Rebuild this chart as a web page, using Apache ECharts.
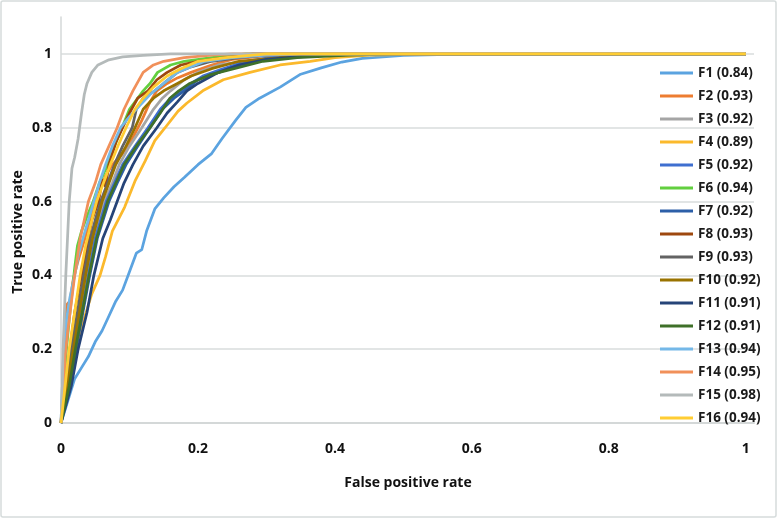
<!DOCTYPE html>
<html>
<head>
<meta charset="utf-8">
<script src="https://cdn.jsdelivr.net/npm/echarts@6/dist/echarts.min.js"></script>
<style>
html, body { margin: 0; padding: 0; background: #fff; }
#chart { width: 777px; height: 518px; }
</style>
</head>
<body>
<div id="chart"></div>
<script>
// ROC curves, [false positive rate, true positive rate]
var names = ['F1 (0.84)', 'F2 (0.93)', 'F3 (0.92)', 'F4 (0.89)', 'F5 (0.92)', 'F6 (0.94)', 'F7 (0.92)', 'F8 (0.93)',
  'F9 (0.93)', 'F10 (0.92)', 'F11 (0.91)', 'F12 (0.91)', 'F13 (0.94)', 'F14 (0.95)', 'F15 (0.98)', 'F16 (0.94)'];
var colors = ['#5BA3E0', '#ED7D31', '#A5A5A5', '#FBB92C', '#3F6FD0', '#62CF3F', '#2C5FA8', '#9E480E',
  '#636363', '#997300', '#264478', '#3F7029', '#74B8E8', '#F1905A', '#B4BABA', '#FFCD33'];
var xTicks = [0, 0.2, 0.4, 0.6, 0.8, 1];
var yTicks = [0, 0.2, 0.4, 0.6, 0.8, 1];

var F1 = [[0,0],[0.01,0.06],[0.02,0.12],[0.03,0.15],[0.04,0.18],[0.05,0.22],[0.06,0.25],[0.07,0.29],[0.08,0.33],[0.09,0.36],[0.1,0.41],[0.11,0.46],[0.118,0.47],[0.125,0.52],[0.137,0.58],[0.15,0.61],[0.165,0.64],[0.18,0.665],[0.2,0.7],[0.22,0.73],[0.235,0.77],[0.255,0.82],[0.27,0.855],[0.29,0.88],[0.32,0.91],[0.35,0.945],[0.38,0.962],[0.41,0.978],[0.44,0.988],[0.5,0.996],[0.6,1],[1,1]];
var F2 = [[0,0],[0.003,0.1],[0.006,0.22],[0.008,0.32],[0.013,0.33],[0.018,0.39],[0.025,0.44],[0.035,0.5],[0.045,0.57],[0.055,0.62],[0.065,0.67],[0.075,0.7],[0.09,0.73],[0.104,0.77],[0.118,0.82],[0.13,0.87],[0.14,0.9],[0.155,0.92],[0.17,0.935],[0.19,0.95],[0.22,0.97],[0.25,0.985],[0.3,0.995],[0.35,1],[1,1]];
var F3 = [[0,0],[0.01,0.1],[0.019,0.2],[0.028,0.3],[0.038,0.4],[0.048,0.5],[0.063,0.6],[0.075,0.65],[0.085,0.7],[0.1,0.75],[0.118,0.8],[0.135,0.85],[0.148,0.88],[0.16,0.9],[0.18,0.93],[0.2,0.95],[0.23,0.97],[0.27,0.98],[0.33,0.99],[0.42,1],[1,1]];
var F4 = [[0,0],[0.01,0.08],[0.02,0.18],[0.03,0.26],[0.04,0.32],[0.045,0.35],[0.057,0.4],[0.065,0.45],[0.075,0.52],[0.093,0.585],[0.108,0.655],[0.123,0.71],[0.137,0.765],[0.152,0.8],[0.171,0.845],[0.184,0.867],[0.207,0.9],[0.237,0.93],[0.276,0.95],[0.32,0.97],[0.364,0.98],[0.4,0.99],[0.45,0.997],[0.55,1],[1,1]];
var F5 = [[0,0],[0.01,0.1],[0.02,0.2],[0.03,0.3],[0.04,0.4],[0.05,0.5],[0.066,0.6],[0.078,0.65],[0.09,0.7],[0.108,0.75],[0.127,0.8],[0.145,0.85],[0.16,0.88],[0.175,0.9],[0.19,0.92],[0.207,0.94],[0.232,0.957],[0.271,0.98],[0.305,0.99],[0.36,0.996],[0.45,1],[1,1]];
var F6 = [[0,0],[0.004,0.1],[0.008,0.2],[0.012,0.28],[0.016,0.35],[0.02,0.42],[0.024,0.48],[0.03,0.52],[0.038,0.56],[0.047,0.6],[0.056,0.65],[0.068,0.7],[0.078,0.75],[0.089,0.8],[0.1,0.85],[0.112,0.88],[0.12,0.9],[0.13,0.92],[0.141,0.95],[0.16,0.97],[0.18,0.98],[0.22,0.99],[0.27,1],[1,1]];
var F7 = [[0,0],[0.012,0.1],[0.022,0.2],[0.032,0.3],[0.042,0.4],[0.053,0.5],[0.07,0.6],[0.082,0.65],[0.095,0.7],[0.112,0.75],[0.13,0.8],[0.148,0.85],[0.165,0.88],[0.18,0.9],[0.2,0.93],[0.23,0.95],[0.26,0.97],[0.3,0.985],[0.36,0.995],[0.45,1],[1,1]];
var F8 = [[0,0],[0.007,0.1],[0.013,0.2],[0.02,0.3],[0.03,0.4],[0.038,0.48],[0.045,0.55],[0.055,0.6],[0.06,0.66],[0.065,0.64],[0.07,0.7],[0.08,0.76],[0.09,0.8],[0.1,0.84],[0.112,0.88],[0.127,0.9],[0.14,0.93],[0.155,0.95],[0.175,0.97],[0.2,0.98],[0.24,0.99],[0.28,1],[1,1]];
var F9 = [[0,0],[0.008,0.1],[0.015,0.2],[0.024,0.3],[0.033,0.4],[0.043,0.5],[0.05,0.55],[0.058,0.6],[0.068,0.65],[0.078,0.7],[0.09,0.75],[0.104,0.8],[0.11,0.85],[0.12,0.88],[0.137,0.9],[0.15,0.92],[0.17,0.95],[0.19,0.965],[0.22,0.98],[0.26,0.99],[0.32,1],[1,1]];
var F10 = [[0,0],[0.009,0.1],[0.018,0.2],[0.027,0.3],[0.036,0.4],[0.046,0.5],[0.06,0.6],[0.07,0.65],[0.08,0.7],[0.095,0.75],[0.108,0.8],[0.12,0.85],[0.135,0.88],[0.15,0.9],[0.17,0.92],[0.19,0.94],[0.22,0.96],[0.26,0.98],[0.32,0.99],[0.4,1],[1,1]];
var F11 = [[0,0],[0.015,0.1],[0.025,0.2],[0.038,0.3],[0.048,0.4],[0.061,0.5],[0.072,0.55],[0.082,0.6],[0.092,0.65],[0.105,0.7],[0.12,0.75],[0.14,0.8],[0.155,0.84],[0.17,0.87],[0.184,0.9],[0.2,0.92],[0.23,0.95],[0.26,0.97],[0.3,0.985],[0.36,0.995],[0.45,1],[1,1]];
var F12 = [[0,0],[0.012,0.1],[0.021,0.2],[0.031,0.3],[0.041,0.4],[0.052,0.5],[0.068,0.6],[0.08,0.65],[0.092,0.7],[0.11,0.75],[0.13,0.8],[0.145,0.84],[0.159,0.88],[0.172,0.9],[0.188,0.92],[0.217,0.943],[0.257,0.962],[0.295,0.98],[0.345,0.99],[0.42,0.997],[0.5,1],[1,1]];
var F13 = [[0,0],[0.002,0.1],[0.004,0.2],[0.008,0.28],[0.013,0.34],[0.02,0.4],[0.026,0.46],[0.032,0.5],[0.04,0.55],[0.048,0.6],[0.056,0.65],[0.065,0.7],[0.075,0.75],[0.087,0.8],[0.1,0.83],[0.115,0.86],[0.13,0.89],[0.15,0.92],[0.17,0.95],[0.19,0.965],[0.21,0.98],[0.25,0.99],[0.3,0.997],[0.35,1],[1,1]];
var F14 = [[0,0],[0.003,0.08],[0.006,0.18],[0.01,0.25],[0.014,0.31],[0.02,0.4],[0.028,0.5],[0.04,0.6],[0.05,0.65],[0.058,0.7],[0.07,0.75],[0.082,0.8],[0.092,0.85],[0.105,0.9],[0.12,0.95],[0.135,0.97],[0.15,0.98],[0.18,0.99],[0.22,0.997],[0.25,1],[1,1]];
var F15 = [[0,0],[0.002,0.1],[0.003,0.2],[0.005,0.3],[0.007,0.4],[0.01,0.52],[0.012,0.6],[0.016,0.69],[0.02,0.72],[0.025,0.77],[0.03,0.84],[0.034,0.89],[0.038,0.92],[0.045,0.95],[0.054,0.97],[0.07,0.984],[0.09,0.992],[0.12,0.996],[0.16,1],[1,1]];
var F16 = [[0,0],[0.006,0.1],[0.012,0.2],[0.02,0.3],[0.028,0.4],[0.036,0.48],[0.045,0.55],[0.052,0.6],[0.062,0.65],[0.072,0.7],[0.083,0.75],[0.095,0.8],[0.108,0.85],[0.12,0.88],[0.135,0.91],[0.155,0.94],[0.175,0.96],[0.2,0.98],[0.24,0.99],[0.3,1],[1,1]];
var curves = [F1, F2, F3, F4, F5, F6, F7, F8, F9, F10, F11, F12, F13, F14, F15, F16];

function onTick(list, v) {
  for (var i = 0; i < list.length; i++) { if (Math.abs(list[i] - v) < 1e-6) return true; }
  return false;
}

var myChart = echarts.init(document.getElementById('chart'));
var series = [];
for (var i = 0; i < curves.length; i++) {
  series.push({
    name: names[i],
    type: 'line',
    data: curves[i],
    showSymbol: false,
    symbol: 'none',
    smooth: false,
    animation: false,
    lineStyle: { width: 2.75, color: colors[i] },
    itemStyle: { color: colors[i] }
  });
}

var option = {
  backgroundColor: '#fff',
  textStyle: { fontFamily: 'Open Sans' },
  grid: { left: 61, right: 23, top: 17, bottom: 95 },
  legend: {
    orient: 'vertical',
    left: 655,
    top: 60,
    icon: 'rect',
    itemWidth: 33,
    itemHeight: 3,
    itemGap: 7,
    data: names,
    textStyle: { fontFamily: 'Open Sans', fontWeight: 'bold', fontSize: 13.5, color: '#1a1a1a', lineHeight: 16 }
  },
  xAxis: {
    type: 'value',
    min: 0,
    max: 1.012,
    interval: 0.2,
    axisLine: { show: true, lineStyle: { color: '#d4d8d8', width: 2 } },
    axisTick: { show: false },
    splitLine: { show: false },
    axisLabel: {
      margin: 19,
      fontFamily: 'Open Sans', fontWeight: 'bold', fontSize: 14, color: '#111',
      formatter: function (v) { return onTick(xTicks, v) ? String(+v.toFixed(1)) : ''; }
    }
  },
  yAxis: {
    type: 'value',
    min: 0,
    max: 1.1,
    interval: 0.2,
    axisLine: { show: true, lineStyle: { color: '#d4d8d8', width: 1.5 } },
    axisTick: { show: false },
    splitLine: { show: true, showMaxLine: false, lineStyle: { color: '#d9dcdc', width: 1.5 } },
    axisLabel: {
      margin: 9,
      fontFamily: 'Open Sans', fontWeight: 'bold', fontSize: 14, color: '#111',
      formatter: function (v) { return onTick(yTicks, v) ? String(+v.toFixed(1)) : ''; }
    }
  },
  graphic: [
    { type: 'rect', shape: { x: 1, y: 1, width: 775, height: 516, r: 2 },
      style: { fill: 'none', stroke: '#d6dcdc', lineWidth: 1.5 }, silent: true },
    { type: 'text', x: 18, y: 232, rotation: Math.PI / 2,
      style: { text: 'True positive rate', fontFamily: 'Open Sans', fontWeight: 'bold', fontSize: 14, fill: '#111', align: 'center', verticalAlign: 'middle' } },
    { type: 'text', x: 408, y: 483,
      style: { text: 'False positive rate', fontFamily: 'Open Sans', fontWeight: 'bold', fontSize: 14, fill: '#111', align: 'center', verticalAlign: 'middle' } }
  ],
  series: series
};
myChart.setOption(option);
</script>
</body>
</html>
